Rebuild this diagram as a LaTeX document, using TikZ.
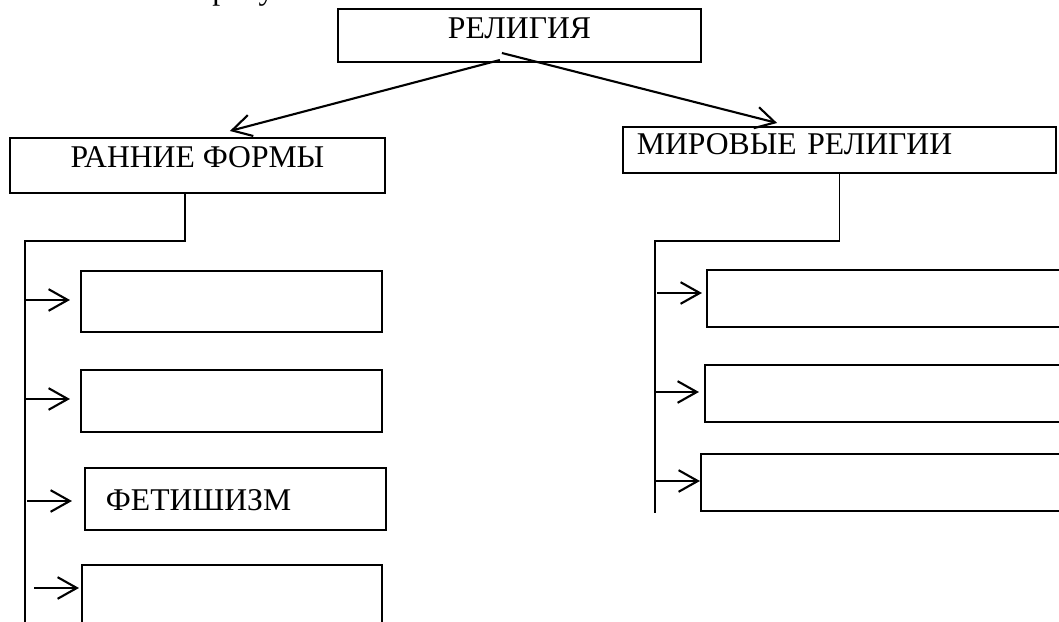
\documentclass[tikz,border=0pt]{standalone}
\usepackage{fontspec}
\setmainfont{Liberation Serif}
\usepackage{tikz}
\usetikzlibrary{positioning, arrows.meta, calc}
\newcommand{\boxfont}{\fontsize{22.5}{26}\selectfont}
\tikzstyle{box} = [rectangle, draw, line width=1.4pt, outer sep=0pt, inner ysep=0pt, font=\boxfont]
\tikzstyle{line} = [line width=1.3pt]
\tikzstyle{arrow} = [line width=1.5pt, -{Straight Barb[length=4.8mm, width=5.4mm]}]

\begin{document}
\begin{tikzpicture}[x=0.025cm, y=-0.025cm]
    \useasboundingbox (0,0) rectangle (1059,622);
    \clip (0,0) rectangle (1059,622);

    % Line of text cut off above the picture
    \node[anchor=base west, inner sep=0pt, font=\boxfont] (caption) at (212,0) {рисунок};

    % Top of the scheme
    \node[box, minimum width=9.075cm, text height=0.75cm, text depth=0.575cm] (religion) at (519.5,35.5) {РЕЛИГИЯ};

    \node[box, minimum width=9.375cm, text height=0.75cm, text depth=0.625cm] (early) at (197.5,165.5) {РАННИЕ ФОРМЫ};
    \node[box, text width=10.125cm, inner xsep=0.35cm, align=left, text height=0.7cm, text depth=0.45cm] (world) at (839.5,150) {МИРОВЫЕ РЕЛИГИИ};

    % Early forms
    \node[box, minimum width=7.525cm, minimum height=1.525cm] (e1) at (231.5,301.5) {};
    \node[box, minimum width=7.525cm, minimum height=1.55cm] (e2) at (231.5,401) {};
    \node[box, text width=6.475cm, inner xsep=0.525cm, align=left, text height=1.05cm, text depth=0.5cm] (e3) at (235.5,499) {ФЕТИШИЗМ};
    \node[box, minimum width=7.5cm, minimum height=1.55cm] (e4) at (232,596) {};

    % World religions
    \node[box, minimum width=9.825cm, minimum height=1.425cm] (w1) at (903.5,298.5) {};
    \node[box, minimum width=9.875cm, minimum height=1.425cm] (w2) at (902.5,393.5) {};
    \node[box, minimum width=9.975cm, minimum height=1.425cm] (w3) at (900.5,482.5) {};

    % Arrows from the top box
    \draw[arrow] ([xshift=-0.49cm, yshift=0.05cm]religion.south) -- ([xshift=0.81cm, yshift=0.175cm]early.north);
    \draw[arrow] ([xshift=-0.44cm, yshift=0.225cm]religion.south) -- ([xshift=-1.56cm, yshift=0.1cm]world.north);

    % Left branch
    \coordinate (ltop) at (25,241);
    \coordinate (lbot) at (25,625);
    \draw[line] ([xshift=-0.31cm]early.south) |- (ltop) -- (lbot);
    \draw[arrow] ($(e1.west -| ltop)+(0,-1.5)$) -- ($(e1.west)+(-11,-1.5)$);
    \draw[arrow] ($(e2.west -| ltop)+(0,-2)$) -- ($(e2.west)+(-11,-2)$);
    \draw[arrow] ($(e3.west -| ltop)+(2,2)$) -- ($(e3.west)+(-13,2)$);
    \draw[arrow] ($(e4.west -| ltop)+(9,-8)$) -- ($(e4.west)+(-3,-8)$);

    % Right branch
    \coordinate (rtop) at (655,241);
    \coordinate (rbot) at (655,513);
    \draw[line] (world.south) |- (rtop) -- (rbot);
    \draw[arrow] ($(w1.west -| rtop)+(2,-5.5)$) -- ($(w1.west)+(-5,-5.5)$);
    \draw[arrow] ($(w2.west -| rtop)+(0,-1.5)$) -- ($(w2.west)+(-6,-1.5)$);
    \draw[arrow] ($(w3.west -| rtop)+(0,-1.5)$) -- ($(w3.west)+(-1,-1.5)$);
\end{tikzpicture}
\end{document}
